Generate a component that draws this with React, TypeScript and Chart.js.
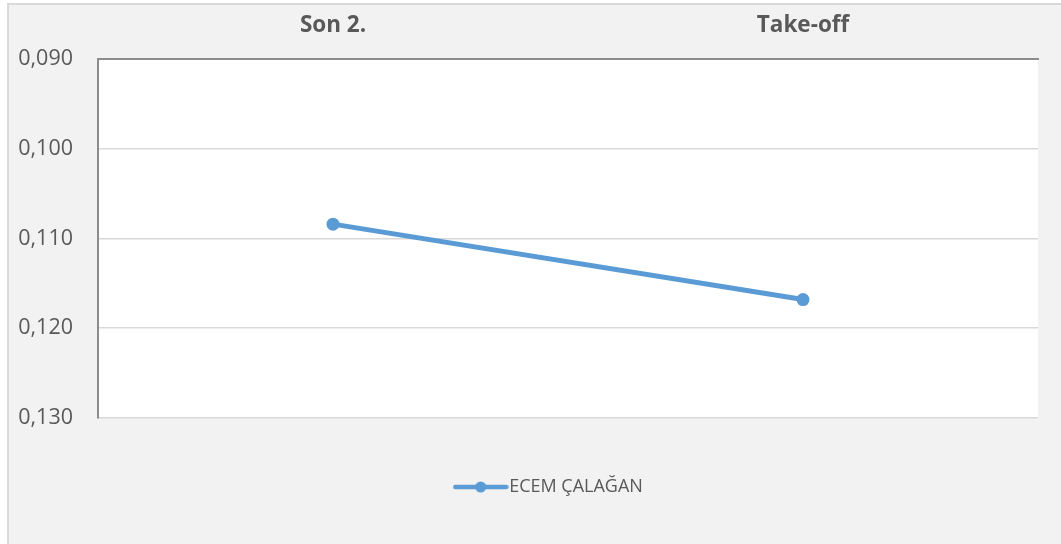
import React, { useEffect, useRef } from "react";
import { Chart, registerables } from "chart.js";

Chart.register(...registerables);

const categories: string[] = ["Son 2.", "Take-off"];
const seriesName = "ECEM ÇALAĞAN";
const seriesValues: number[] = [0.1084, 0.1168];
const yMin = 0.09;
const yMax = 0.13;
const yStep = 0.01;

const LINE_COLOR = "#5b9bd5";
const TEXT_COLOR = "#595959";
const FONT = "'Open Sans', 'Noto Sans', sans-serif";

function makeLegendImage(): HTMLCanvasElement {
  const c = document.createElement("canvas");
  c.width = 56;
  c.height = 12;
  const ctx = c.getContext("2d")!;
  ctx.strokeStyle = LINE_COLOR;
  ctx.lineWidth = 4.5;
  ctx.lineCap = "round";
  ctx.beginPath();
  ctx.moveTo(2.5, 6);
  ctx.lineTo(53.5, 6);
  ctx.stroke();
  ctx.fillStyle = LINE_COLOR;
  ctx.beginPath();
  ctx.arc(28, 6, 5.5, 0, Math.PI * 2);
  ctx.fill();
  return c;
}

const bgPlugin = {
  id: "bgPlugin",
  afterLayout(chart: any) {
    const lg = chart.legend;
    if (lg) {
      lg.left += 33;
      lg.right += 33;
    }
  },
  beforeDraw(chart: any) {
    const { ctx, chartArea } = chart;
    const w = chart.width;
    const h = chart.height;
    ctx.save();
    ctx.fillStyle = "#ffffff";
    ctx.fillRect(0, 0, w, h);
    ctx.fillStyle = "#f2f2f2";
    ctx.fillRect(8, 4, w - 8, h - 4);
    ctx.strokeStyle = "#d9d9d9";
    ctx.lineWidth = 2;
    ctx.beginPath();
    ctx.moveTo(8, h);
    ctx.lineTo(8, 4);
    ctx.lineTo(w, 4);
    ctx.stroke();
    ctx.fillStyle = "#ffffff";
    ctx.fillRect(
      chartArea.left,
      chartArea.top,
      chartArea.right - chartArea.left,
      chartArea.bottom - chartArea.top
    );
    ctx.restore();
  },
};

export default function App() {
  const canvasRef = useRef<HTMLCanvasElement | null>(null);

  useEffect(() => {
    if (!canvasRef.current) return;
    const legendImg = makeLegendImage();
    const chart = new Chart(canvasRef.current, {
      type: "line",
      data: {
        labels: categories,
        datasets: [
          {
            label: seriesName,
            data: seriesValues,
            borderColor: LINE_COLOR,
            backgroundColor: LINE_COLOR,
            borderWidth: 5,
            pointRadius: 6.5,
            pointBackgroundColor: LINE_COLOR,
            pointBorderWidth: 0,
            tension: 0,
            clip: false as any,
          },
        ],
      },
      options: {
        animation: false,
        responsive: false,
        layout: { padding: { left: 0, top: 0, right: 23, bottom: 38 } },
        scales: {
          x: {
            type: "category",
            position: "top",
            offset: true,
            grid: { display: false, drawTicks: false },
            border: { display: true, color: "#8c8c8c", width: 2 },
            ticks: {
              color: TEXT_COLOR,
              font: { family: FONT, size: 22.5, weight: "bold" },
              padding: 20,
            },
            afterFit: (s: any) => {
              s.height = 59;
            },
          },
          xb: {
            type: "category",
            position: "bottom",
            display: true,
            grid: { display: false, drawTicks: false },
            border: { display: false },
            ticks: { display: false },
            afterFit: (s: any) => {
              s.height = 50;
            },
          },
          y: {
            type: "linear",
            reverse: true,
            min: yMin,
            max: yMax,
            grid: { color: "#d9d9d9", lineWidth: 1.5, drawTicks: false },
            border: { display: true, color: "#8c8c8c", width: 2 },
            ticks: {
              stepSize: yStep,
              color: TEXT_COLOR,
              font: { family: FONT, size: 21.5 },
              padding: 25,
              callback: (v: any) => Number(v).toFixed(3).replace(".", ","),
            },
            afterFit: (s: any) => {
              s.width = 98;
            },
          },
        },
        plugins: {
          legend: {
            display: true,
            position: "bottom",
            labels: {
              usePointStyle: true,
              pointStyleWidth: 39,
              boxHeight: 12,
              padding: 10,
              color: TEXT_COLOR,
              font: { family: FONT, size: 18 },
              generateLabels: () => [
                {
                  text: seriesName,
                  pointStyle: legendImg as any,
                  fillStyle: LINE_COLOR,
                  strokeStyle: LINE_COLOR,
                  lineWidth: 0,
                  hidden: false,
                  datasetIndex: 0,
                  fontColor: TEXT_COLOR,
                } as any,
              ],
            },
          },
          tooltip: { enabled: false },
        },
      },
      plugins: [bgPlugin],
    });
    return () => chart.destroy();
  }, []);

  return (
    <div style={{ position: "absolute", left: 0, top: 0, width: 1061, height: 544 }}>
      <canvas ref={canvasRef} width={1061} height={544} style={{ display: "block" }} />
    </div>
  );
}
